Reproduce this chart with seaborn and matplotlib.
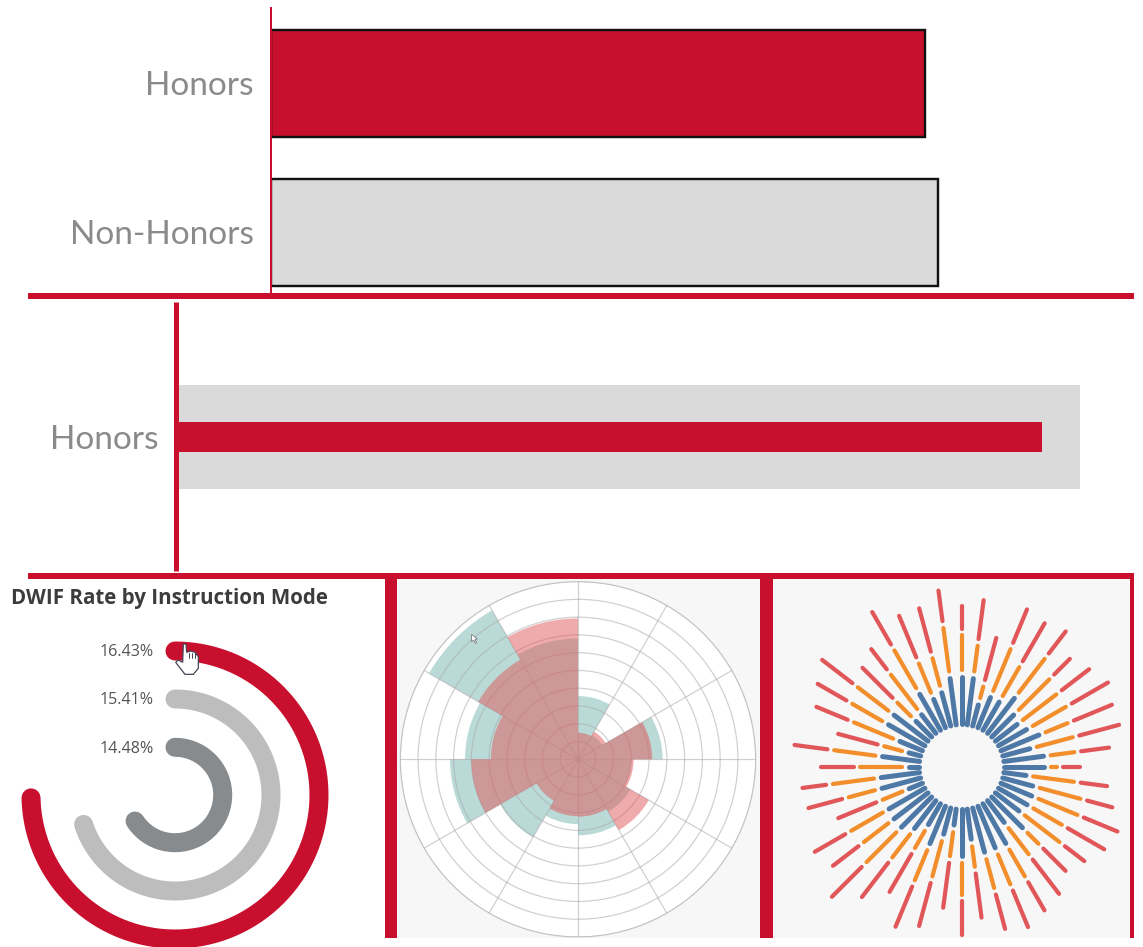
import numpy as np
import pandas as pd
import matplotlib
matplotlib.use("Agg")
import matplotlib.pyplot as plt
from matplotlib.patches import Rectangle, Polygon
import seaborn as sns

W, H = 1143, 947
RED = "#c8102e"
GREY = "#dadada"

# ---- data ----
top_categories = ["Honors", "Non-Honors"]
top_values = [655, 668]
mid_category = ["Honors"]
mid_total = [904]
mid_value = [866]

dwif_labels = ["16.43%", "15.41%", "14.48%"]
dwif_rates = [16.43, 15.41, 14.48]
dwif_axis_max = 22.0
dwif_colors = [RED, "#bdbdbd", "#888b8d"]

rose_teal = [3.56, 1.57, 4.76, 3.00, 3.40, 4.28, 3.65, 5.07, 7.20, 6.36, 9.68, 6.80]
rose_red = [1.50, 1.80, 4.18, 3.13, 4.60, 3.23, 3.20, 2.70, 6.00, 4.90, 6.48, 7.93]

burst_blue = [276, 275, 200, 233, 232, 267, 228, 217, 232, 258, 219, 255,
              255, 202, 228, 235, 234, 224, 265, 217, 272, 270, 272, 226,
              274, 183, 216, 256, 207, 240, 263, 263, 259, 178, 255, 251,
              165, 247, 171, 208, 261, 263, 201, 205, 259, 227, 238, 275]
burst_orange = [401, 373, 256, 389, 352, 415, 378, 364, 367, 350, 351, 347,
                291, 346, 375, 382, 353, 376, 332, 336, 385, 387, 382, 308,
                389, 276, 346, 374, 287, 348, 410, 376, 389, 263, 357, 396,
                310, 392, 247, 356, 385, 399, 279, 355, 410, 342, 344, 427]
burst_red = [488, 511, 407, 518, 504, 519, 465, 488, 513, 494, 495, 452,
             361, 446, 474, 512, 500, 470, 447, 486, 503, 526, 509, 462,
             509, 432, 500, 525, 439, 498, 557, 493, 515, 407, 482, 488,
             427, 512, 390, 478, 505, 534, 427, 452, 543, 497, 499, 540]

# ---- layout helpers ----
sns.set_theme(style="white")
plt.rcParams["font.family"] = ["Lato", "DejaVu Sans"]
fig = plt.figure(figsize=(W / 100, H / 100), dpi=100, facecolor="white")


def box(x0, y0, x1, y1, **kw):
    """Axes placed by its pixel box (y measured from the top of the image)."""
    return fig.add_axes([x0 / W, 1 - y1 / H, (x1 - x0) / W, (y1 - y0) / H], **kw)


def px(v):
    return v * 72 / 100


def pixel_layer(z):
    a = box(0, 0, W, H)
    a.set_xlim(0, W)
    a.set_ylim(H, 0)
    a.axis("off")
    a.patch.set_alpha(0)
    a.set_zorder(z)
    return a


# page furniture below the charts, pointers and text above them
page = pixel_layer(-1)
over = pixel_layer(5)
for (x0, y0, x1, y1, c) in [
    (397, 579, 760, 938, "#f7f7f7"),
    (773, 579, 1130, 938, "#f7f7f7"),
]:
    page.add_patch(Rectangle((x0, y0), x1 - x0, y1 - y0, fc=c, ec="none"))
for (x0, y0, x1, y1) in [
    (28, 293, 1134, 299),
    (28, 573, 1134, 579),
    (385, 579, 397, 938),
    (760, 579, 773, 938),
    (1130, 579, 1134, 938),
]:
    over.add_patch(Rectangle((x0, y0), x1 - x0, y1 - y0, fc=RED, ec="none"))

# ---- top bar chart ----
ax = box(270.5, 7, 1134, 293)
ax.patch.set_alpha(0)
df = pd.DataFrame({"cat": top_categories, "val": top_values})
sns.barplot(data=df, x="val", y="cat", hue="cat", palette=[RED, GREY], legend=False, saturation=1,
            width=0.718, edgecolor="#111111", linewidth=px(2.4), ax=ax)
ax.set_xlim(0, 863.5)
ax.set_ylim(1.406, -0.513)
ax.set(xlabel="", ylabel="", xticks=[])
sns.despine(ax=ax, top=True, right=True, bottom=True)
ax.spines["left"].set_color(RED)
ax.spines["left"].set_linewidth(px(2))
ax.spines["left"].set_capstyle("butt")
ax.tick_params(axis="y", length=0, pad=12, labelsize=24, labelcolor="#8a8a8a")

# ---- middle bullet bar ----
ax = box(176, 302.5, 1134, 571.5)
ax.patch.set_alpha(0)
sns.barplot(x=mid_total, y=mid_category, color=GREY, saturation=1, width=0.383, linewidth=0, ax=ax)
sns.barplot(x=mid_value, y=mid_category, color=RED, saturation=1, width=0.112, linewidth=0, ax=ax)
ax.set_xlim(0, 958)
ax.set_ylim(0.5, -0.5)
ax.set(xlabel="", ylabel="", xticks=[])
sns.despine(ax=ax, top=True, right=True, bottom=True)
ax.spines["left"].set_color(RED)
ax.spines["left"].set_linewidth(px(5))
ax.spines["left"].set_capstyle("butt")
ax.tick_params(axis="y", length=0, pad=12.5, labelsize=24, labelcolor="#8a8a8a")

# ---- radial DWIF chart ----
cx, cy, R = 175, 795, 160
ax = box(cx - R, cy - R, cx + R, cy + R, projection="polar")
ax.patch.set_alpha(0)
ax.set_theta_zero_location("N")
ax.set_theta_direction(-1)
ring_radius = [144, 96, 47.7]
for rate, r, col in zip(dwif_rates, ring_radius, dwif_colors):
    t = np.linspace(0, rate / dwif_axis_max * 2 * np.pi, 300)
    ax.plot(t, np.full_like(t, r), color=col, lw=px(19), solid_capstyle="round")
ax.set_ylim(0, R)
ax.axis("off")

over.text(11, 598, "DWIF Rate by Instruction Mode", fontfamily="Open Sans", fontweight="bold",
          fontsize=14.8, color="#3c3c3c", va="center", ha="left")
for lab, y in zip(dwif_labels, [652, 700, 749]):
    over.text(154, y, lab, fontfamily="Open Sans", fontsize=11.6, color="#555555",
              va="center", ha="right")

# ---- rose chart ----
cx, cy, R = 578, 759.3, 177.7
ax = box(cx - R, cy - R, cx + R, cy + R, projection="polar")
ax.set_facecolor("white")
ax.set_theta_zero_location("N")
ax.set_theta_direction(-1)
theta = np.deg2rad(np.arange(12) * 30)
ax.bar(theta, rose_teal, width=np.pi / 6, align="edge", color="#76b7b2", alpha=0.5, lw=0, zorder=2)
ax.bar(theta, rose_red, width=np.pi / 6, align="edge", color="#e15759", alpha=0.5, lw=0, zorder=3)
ax.set_ylim(0, 10)
ax.set_xticks(theta)
ax.set_yticks(np.arange(1, 11))
ax.set_xticklabels([])
ax.set_yticklabels([])
ax.grid(True, color="#a8a8a8", lw=px(1.2), alpha=0.55, zorder=4)
ax.set_axisbelow(False)
ax.spines["polar"].set_color("#d0d0d0")
ax.spines["polar"].set_linewidth(px(1.2))

# ---- radial stacked sunburst ----
cx, cy, R = 961.7, 767, 200
ax = box(cx - R, cy - R, cx + R, cy + R, projection="polar")
ax.patch.set_alpha(0)
ax.set_theta_zero_location("N")
ax.set_theta_direction(-1)
angles = np.deg2rad(np.arange(48) * 7.5)
INNER, GAP = 120, 8
series = [(burst_blue, "#4e79a7", 5.0), (burst_orange, "#f28e2b", 4.2), (burst_red, "#e15759", 4.2)]
prev = np.full(48, INNER - GAP, dtype=float)
for ends, col, lw in series:
    cap = lw * 3 / 2  # round caps reach half a line width past each end
    for a, p, e in zip(angles, prev, ends):
        ax.plot([a, a], [p + GAP + cap, e - cap], color=col, lw=px(lw), solid_capstyle="round")
    prev = np.array(ends, dtype=float)
ax.set_ylim(0, R * 3)
ax.axis("off")

# mouse pointers captured in the screenshot
hand = np.array([(550, 207), (558, 207), (560, 232), (572, 228), (585, 232), (595, 245), (595, 280),
                 (580, 298), (555, 298), (527, 262), (535, 255), (548, 262)], dtype=float)
over.add_patch(Polygon(np.c_[hand[:, 0] / 3, 575 + hand[:, 1] / 3], closed=True, fc="white",
                       ec="#444455", lw=0.9, zorder=6))
for fx in (567, 577, 586):
    over.plot([fx / 3, fx / 3], [575 + 233 / 3, 575 + 250 / 3], color="#444455", lw=0.7, zorder=7)
arrow = np.array([(230, 178), (230, 200), (236, 195), (241, 205), (245, 203), (240, 193), (247, 192)],
                 dtype=float)
over.add_patch(Polygon(np.c_[395 + arrow[:, 0] / 3, 575 + arrow[:, 1] / 3], closed=True, fc="white",
                       ec="#666666", lw=0.5, zorder=6))

fig.savefig("out.png", dpi=100)
